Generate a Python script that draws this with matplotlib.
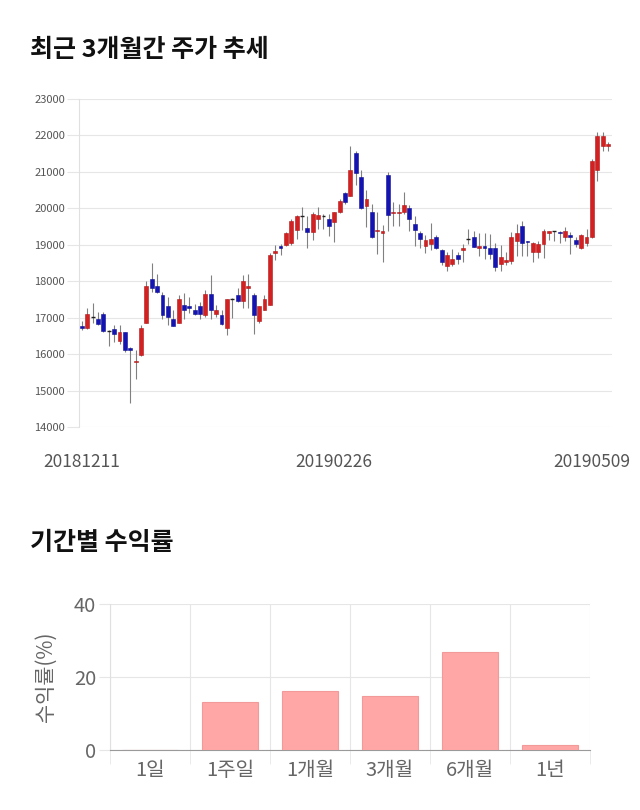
import matplotlib
matplotlib.use("Agg")
import matplotlib.pyplot as plt
from matplotlib.transforms import ScaledTranslation
import numpy as np

plt.rcParams['font.family'] = ['Noto Sans CJK KR', 'DejaVu Sans']

# daily candles, 2018-12-11 .. 2019-05-09
opens = [16780, 16720, 17020, 16970, 17110, 16630, 16680, 16360, 16610, 16180,
         15770, 15970, 16850, 18070, 17870, 17630, 17320, 16970, 16850, 17350,
         17320, 17220, 17310, 17060, 17660, 17110, 17060, 16720, 17520, 17610,
         17450, 17810, 17610, 16910, 17220, 17360, 18770, 18980, 19000, 19050,
         19410, 19800, 19460, 19350, 19710, 19800, 19710, 19620, 19910, 20420,
         20350, 21520, 20850, 20060, 19910, 19370, 19320, 20920, 19870, 19870,
         19910, 20010, 19570, 19320, 18960, 19010, 19210, 18860, 18420, 18460,
         18710, 18860, 19160, 19210, 18910, 18960, 18910, 18910, 18460, 18540,
         18550, 19100, 19510, 19090, 18800, 18800, 19010, 19320, 19370, 19340,
         19210, 19280, 19120, 18910, 19050, 19210, 21050, 21700, 21700]
highs = [16900, 17270, 17410, 17150, 17150, 16660, 16810, 16810, 16620, 16200,
         16100, 16810, 18000, 18510, 18200, 17700, 17570, 17200, 17610, 17670,
         17570, 17380, 17430, 17750, 18160, 17340, 17200, 17520, 17530, 17810,
         18160, 18200, 17690, 17330, 17630, 18770, 18990, 19030, 19350, 19710,
         19820, 20030, 19800, 19890, 20030, 19850, 19850, 19910, 20250, 20450,
         21720, 21580, 21040, 20490, 20120, 19910, 19530, 21010, 20170, 20120,
         20460, 20080, 19800, 19390, 19260, 19600, 19270, 18890, 18800, 18890,
         18800, 19030, 19440, 19370, 19320, 19320, 19300, 19040, 19000, 18800,
         19350, 19570, 19640, 19110, 19070, 19100, 19440, 19390, 19390, 19390,
         19490, 19350, 19200, 19300, 19440, 21350, 22090, 22090, 21820]
lows = [16650, 16700, 16840, 16790, 16600, 16210, 16330, 16290, 16060, 14660,
        15330, 15950, 16840, 17700, 17680, 16970, 16810, 16770, 16840, 16970,
        17130, 17060, 16970, 17020, 16970, 17020, 16790, 16520, 17000, 17430,
        17270, 17270, 16560, 16840, 17200, 17340, 18570, 18710, 18980, 19000,
        19160, 19410, 18910, 19120, 19440, 19420, 19250, 19070, 19880, 20120,
        20330, 20630, 19980, 19480, 19180, 18750, 18530, 19390, 19510, 19510,
        19850, 19370, 18960, 18910, 18780, 18870, 18890, 18450, 18270, 18430,
        18460, 18530, 19030, 18930, 18700, 18610, 18610, 18270, 18270, 18440,
        18480, 18700, 18700, 18700, 18530, 18650, 18650, 19130, 19100, 19060,
        19100, 18750, 18930, 18890, 18980, 19180, 20760, 21580, 21580]
closes = [16730, 17110, 17020, 16820, 16630, 16630, 16560, 16610, 16120, 16120,
          15810, 16720, 17870, 17810, 17700, 17060, 17020, 16770, 17520, 17220,
          17260, 17110, 17110, 17660, 17200, 17220, 16820, 17500, 17520, 17450,
          18000, 17870, 17060, 17320, 17520, 18730, 18820, 18910, 19320, 19650,
          19800, 19800, 19350, 19850, 19820, 19800, 19510, 19910, 20210, 20170,
          21050, 20960, 20010, 20260, 19210, 19410, 19370, 19820, 19900, 19900,
          20100, 19710, 19410, 19160, 19120, 19160, 18910, 18520, 18730, 18620,
          18620, 18920, 19160, 18950, 18960, 18910, 18750, 18400, 18660, 18590,
          19210, 19320, 19050, 19070, 19050, 19010, 19370, 19370, 19370, 19320,
          19370, 19210, 19010, 19280, 19210, 21310, 21990, 21990, 21760]
date_ticks = {0: "20181211", 47: "20190226", 98: "20190509"}

periods = ['1일', '1주일', '1개월', '3개월', '6개월', '1년']
returns = [0.0, 13.1, 16.3, 14.8, 26.9, 1.4]

UP = '#d42020'
DOWN = '#1414b4'

fig = plt.figure(figsize=(6.4, 8.1), dpi=100)

fig.text(30 / 640, 1 - 50 / 810, '최근 3개월간 주가 추세', fontsize=18,
         fontweight='bold', va='center', ha='left', color='#111111')
fig.text(30 / 640, 1 - 543 / 810, '기간별 수익률', fontsize=18,
         fontweight='bold', va='center', ha='left', color='#111111')

# ---- candlestick chart ----
ax = fig.add_axes([79 / 640, 1 - 427 / 810, 533 / 640, 328 / 810])
o = np.array(opens)
h = np.array(highs)
l = np.array(lows)
c = np.array(closes)
x = np.arange(len(o))
up = c > o
down = c < o
flat = c == o

ax.vlines(x, l, h, color='#808080', linewidth=0.8, zorder=2)
ax.bar(x[up], (c - o)[up], bottom=o[up], width=0.72, color=UP,
       edgecolor='#b01818', linewidth=0.4, zorder=3)
ax.bar(x[down], (o - c)[down], bottom=c[down], width=0.72, color=DOWN,
       edgecolor='#10108f', linewidth=0.4, zorder=3)
ax.hlines(c[flat], x[flat] - 0.36, x[flat] + 0.36, color='#222222',
          linewidth=1.0, zorder=3)

ax.set_xlim(-0.55, len(o) - 0.25)
ax.set_ylim(14000, 23000)
ax.set_yticks(range(14000, 23001, 1000))
ax.yaxis.grid(True, color='#e6e6e6', linewidth=0.8)
ax.set_axisbelow(True)
for s in ['top', 'right', 'bottom']:
    ax.spines[s].set_visible(False)
ax.spines['left'].set_color('#e0e0e0')
ax.tick_params(axis='y', length=9, color='#e6e6e6', labelsize=8,
               labelcolor='#555555', pad=1)
ax.set_xticks(list(date_ticks.keys()))
ax.set_xticklabels(list(date_ticks.values()))
ax.tick_params(axis='x', length=0, labelsize=12.5, labelcolor='#555555', pad=19)
labels = ax.get_xticklabels()
labels[-1].set_transform(labels[-1].get_transform() +
                         ScaledTranslation(-16 / 100, 0, fig.dpi_scale_trans))

# ---- period returns ----
bx = fig.add_axes([110 / 640, 1 - 750 / 810, 480 / 640, 146 / 810])
bpos = np.arange(len(periods))
bx.bar(bpos, returns, width=0.7, color='#ffa6a6', edgecolor='#f29a9a',
       linewidth=0.8, zorder=3)
bx.set_xlim(-0.5, len(periods) - 0.5)
bx.set_ylim(0, 40)
bx.set_yticks([0, 20, 40])
bx.set_xticks(bpos)
bx.set_xticklabels(periods)
bx.set_xticks(np.arange(-0.5, len(periods)), minor=True)
bx.grid(True, which='minor', axis='x', color='#e6e6e6', linewidth=0.8)
bx.grid(True, which='major', axis='y', color='#e6e6e6', linewidth=0.8)
bx.set_axisbelow(True)
for s in ['top', 'right']:
    bx.spines[s].set_visible(False)
bx.spines['left'].set_color('#e0e0e0')
bx.spines['bottom'].set_color('#9a9a9a')
bx.tick_params(axis='x', which='major', length=0, labelsize=14.5,
               labelcolor='#666666', pad=7)
bx.tick_params(axis='x', which='minor', length=10, color='#e6e6e6')
bx.tick_params(axis='y', length=8, color='#e6e6e6', labelsize=14.5,
               labelcolor='#666666', pad=2)
bx.set_ylabel('수익률(%)', fontsize=15, color='#666666', labelpad=12)

fig.savefig('out.png', dpi=100)
